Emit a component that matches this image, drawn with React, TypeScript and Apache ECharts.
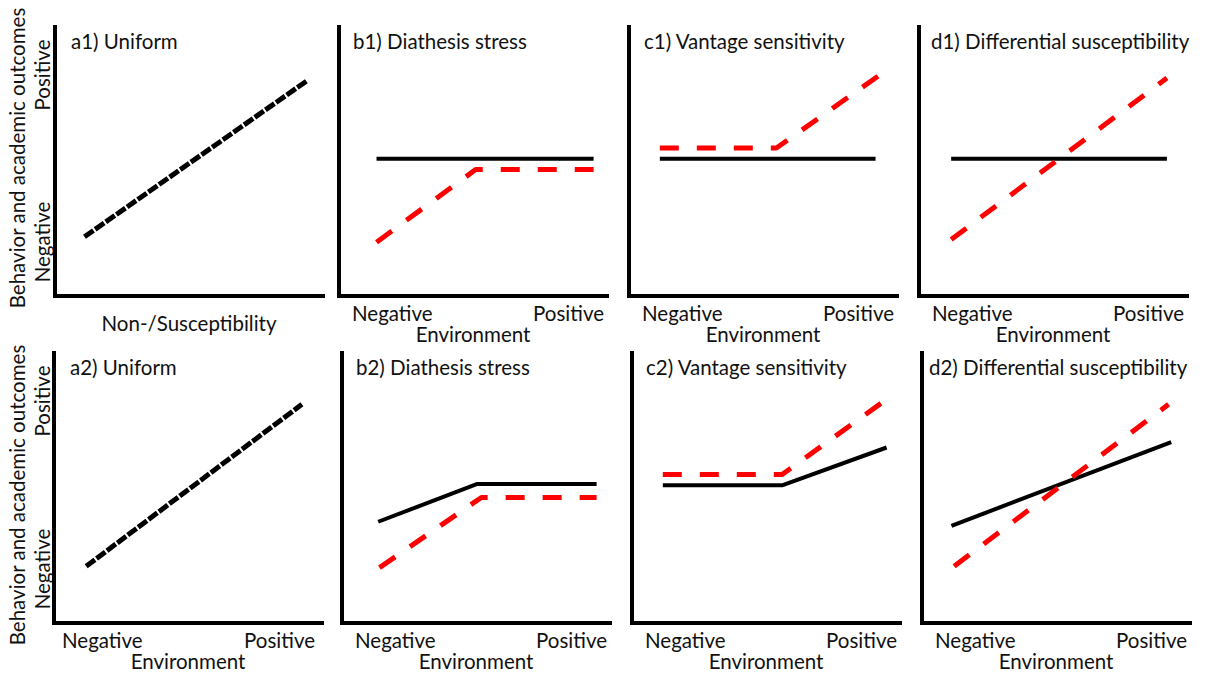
import React, { useEffect, useRef } from "react";
import * as echarts from "echarts";

// Panel titles, row by row
const titlesTop = ["a1) Uniform", "b1) Diathesis stress", "c1) Vantage sensitivity", "d1) Differential susceptibility"];
const titlesBottom = ["a2) Uniform", "b2) Diathesis stress", "c2) Vantage sensitivity", "d2) Differential susceptibility"];

// Axis wording
const envTicks = ["Negative", "Positive"];
const outcomeTicks = ["Negative", "Positive"];
const envName = "Environment";
const suscName = "Non-/Susceptibility";
const outcomeName = "Behavior and academic outcomes";

// Line values on a 0-100 scale: [x, y]
// Top row (a1 has one shared line; others: black = non-susceptible, red = susceptible)
const a1Line = [[11, 22], [94, 80]];
const b1Black = [[14, 51], [95, 51]];
const b1Red = [[14, 20], [51, 47], [95, 47]];
const c1Black = [[11.5, 51], [92, 51]];
const c1Red = [[11.5, 55], [55, 55], [94, 82.5]];
const d1Black = [[12, 51], [92.5, 51]];
const d1Red = [[12, 21], [92.5, 81]];

// Bottom row
const a2Line = [[12, 21], [92.5, 81]];
const b2Black = [[13.5, 37.5], [50.5, 51.5], [95, 51.5]];
const b2Red = [[14, 20.5], [52, 46.5], [95, 46.5]];
const c2Black = [[11.5, 51], [56, 51], [95, 65]];
const c2Red = [[11.5, 55], [56, 55], [94.5, 82.5]];
const d2Black = [[11, 36], [93, 67]];
const d2Red = [[12, 21], [92, 81]];

const FONT = "Lato, 'Open Sans', 'Noto Sans', sans-serif";
const FS = 20.5;
const TEXT = "#111";

export default function App() {
  const ref = useRef<HTMLDivElement>(null);

  useEffect(() => {
    if (!ref.current) return;
    const chart = echarts.init(ref.current, null, { renderer: "svg" });

    const GW = 268;
    const panels = [
      { left: 55, top: 27, h: 269, titleDx: 16 },
      { left: 339, top: 27, h: 269, titleDx: 14 },
      { left: 629, top: 27, h: 269, titleDx: 15 },
      { left: 919, top: 27, h: 269, titleDx: 12 },
      { left: 54, top: 353, h: 270, titleDx: 16 },
      { left: 342, top: 353, h: 270, titleDx: 14 },
      { left: 632, top: 353, h: 270, titleDx: 14 },
      { left: 922, top: 353, h: 270, titleDx: 7 },
    ];
    const titles = [...titlesTop, ...titlesBottom];

    const grid = panels.map((p) => ({ left: p.left, top: p.top, width: GW, height: p.h }));
    const axisBase = {
      type: "value" as const,
      min: 0,
      max: 100,
      axisLine: { show: true, onZero: false, lineStyle: { color: "#000", width: 4, cap: "square" } },
      axisTick: { show: false },
      axisLabel: { show: false },
      splitLine: { show: false },
    };
    const xAxis = panels.map((_, i) => ({ ...axisBase, gridIndex: i }));
    const yAxis = panels.map((_, i) => ({ ...axisBase, gridIndex: i }));

    const black = (data: number[][], i: number) => ({
      type: "line",
      xAxisIndex: i,
      yAxisIndex: i,
      data,
      symbol: "none",
      z: 2,
      lineStyle: { color: "#000", width: 4, cap: "butt", join: "round" },
    });
    const red = (data: number[][], i: number) => ({
      type: "line",
      xAxisIndex: i,
      yAxisIndex: i,
      data,
      symbol: "none",
      z: 3,
      lineStyle: { color: "#ff0000", width: 5, type: [19, 18], cap: "butt", join: "round" },
    });
    const shared = (data: number[][], i: number) => ({
      type: "line",
      xAxisIndex: i,
      yAxisIndex: i,
      data,
      symbol: "none",
      z: 2,
      lineStyle: { color: "#000", width: 5, type: [11, 2], cap: "butt" },
    });

    const series = [
      shared(a1Line, 0),
      black(b1Black, 1), red(b1Red, 1),
      black(c1Black, 2), red(c1Red, 2),
      black(d1Black, 3), red(d1Red, 3),
      shared(a2Line, 4),
      black(b2Black, 5), red(b2Red, 5),
      black(c2Black, 6), red(c2Red, 6),
      black(d2Black, 7), red(d2Red, 7),
    ];

    const txt = (text: string, x: number, y: number, align: string, rotation = 0) => ({
      type: "text",
      x,
      y,
      rotation,
      silent: true,
      style: {
        text,
        fill: TEXT,
        fontSize: FS,
        fontFamily: FONT,
        align,
        textAlign: align,
        verticalAlign: "middle",
        textVerticalAlign: "middle",
      },
    });

    const graphic: any[] = [];
    panels.forEach((p, i) => {
      const bottom = p.top + p.h;
      const right = p.left + GW;
      const cx = p.left + GW / 2;
      graphic.push(txt(titles[i], p.left + p.titleDx, p.top + 14, "left"));
      if (i === 0) {
        graphic.push(txt(suscName, cx, bottom + 27, "center"));
      } else {
        const isA2 = i === 4;
        graphic.push(txt(envTicks[0], p.left + (isA2 ? 8 : 13), bottom + 17, "left"));
        graphic.push(txt(envTicks[1], right - (isA2 ? 7 : 3), bottom + 17, "right"));
        graphic.push(txt(envName, cx, bottom + 38, "center"));
      }
      if (i === 0 || i === 4) {
        graphic.push(txt(outcomeTicks[1], 42, p.top + 48, "center", Math.PI / 2));
        graphic.push(txt(outcomeTicks[0], 42, bottom - 54, "center", Math.PI / 2));
        graphic.push(txt(outcomeName, 17, i === 0 ? 158 : 495, "center", Math.PI / 2));
      }
    });

    chart.setOption({
      animation: false,
      backgroundColor: "#fff",
      grid,
      xAxis,
      yAxis,
      series,
      graphic,
    });

    return () => chart.dispose();
  }, []);

  return (
    <div
      ref={ref}
      style={{ position: "absolute", left: 0, top: 0, width: 1205, height: 675, background: "#fff" }}
    />
  );
}
